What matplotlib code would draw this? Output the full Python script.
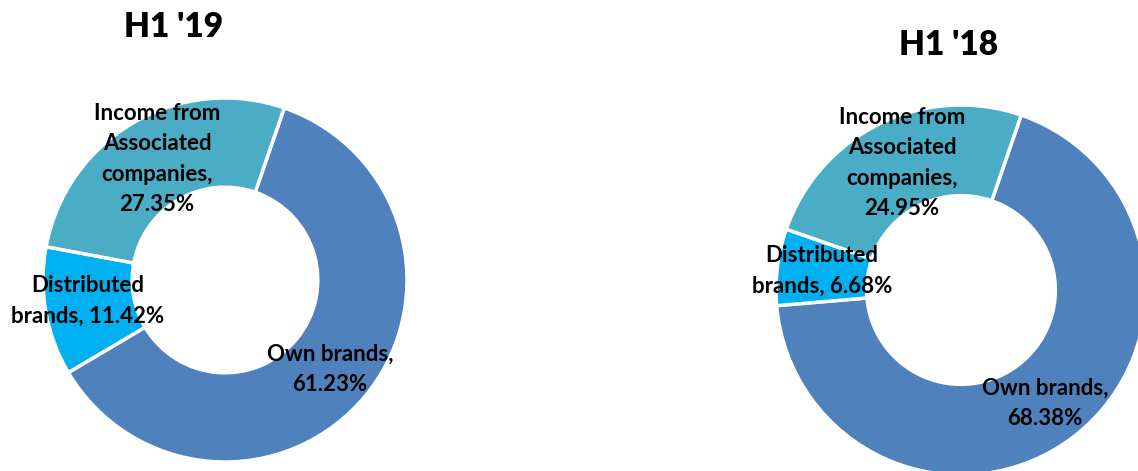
import matplotlib
matplotlib.use("Agg")
import matplotlib.pyplot as plt

# ---- data ----
categories = ["Own brands", "Distributed\nbrands", "Income from\nAssociated\ncompanies"]
label_seps = [",\n", ", ", ",\n"]
values_h1_19 = [61.23, 11.42, 27.35]
values_h1_18 = [68.38, 6.68, 24.95]
titles = ["H1 '19", "H1 '18"]
colors = ["#4F81BD", "#00B0F0", "#4BACC6"]

W, H = 1138, 471
fig = plt.figure(figsize=(W / 100, H / 100), dpi=100)
ax = fig.add_axes([0, 0, 1, 1])
ax.set_xlim(0, W)
ax.set_ylim(0, H)
ax.set_aspect("equal")
ax.axis("off")

FONT = "Lato"

def donut(values, center, radius, title, title_pos, label_pos):
    cx, cy = center
    cy = H - cy
    ax.pie(values, colors=colors, startangle=71, counterclock=False,
           center=(cx, cy), radius=radius, frame=True,
           wedgeprops=dict(width=radius * 0.49, edgecolor="white", linewidth=2.5))
    ax.text(title_pos[0], H - title_pos[1], title, ha="center", va="center",
            fontsize=24, fontweight="heavy", family=FONT)
    for cat, sep, v, (lx, ly) in zip(categories, label_seps, values, label_pos):
        ax.text(lx, H - ly, f"{cat}{sep}{v:.2f}%", ha="center", va="center",
                fontsize=16, fontweight="bold", family=FONT, linespacing=1.55)

donut(values_h1_19, (225, 280), 182, titles[0], (174, 27),
      [(330, 369), (88, 301), (157, 159)])
donut(values_h1_18, (961, 290), 185, titles[1], (949, 45),
      [(1045, 403), (822, 271), (902, 163)])

ax.set_xlim(0, W)
ax.set_ylim(0, H)
ax.axis("off")
fig.savefig("out.png", dpi=100)
